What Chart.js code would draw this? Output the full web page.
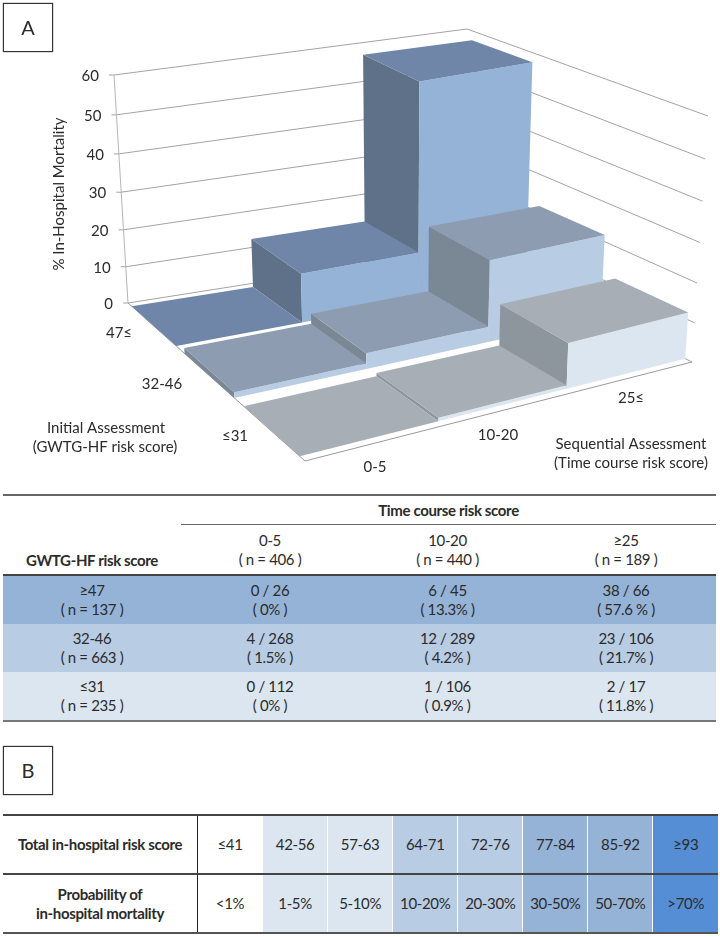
<!DOCTYPE html>
<html>
<head>
<meta charset="utf-8">
<title>In-hospital mortality</title>
<script src="https://cdn.jsdelivr.net/npm/chart.js@4/dist/chart.umd.min.js"></script>
<style>
	html, body { margin: 0; padding: 0; background: #fff; }
	body { position: relative; width: 720px; height: 937px; overflow: hidden; font-family: Lato, "Open Sans", sans-serif; color: #2b2b2b; }
	#scene { position: absolute; left: 0; top: 0; }
	.letter { position: absolute; width: 48px; height: 47px; border: 1px solid #333; box-shadow: 0 0 1px #333; font-size: 20px; line-height: 47px; text-align: center; }
	table { position: absolute; border-collapse: collapse; table-layout: fixed; font-size: 15px; letter-spacing: -0.35px; line-height: 19px; text-align: center; }
	td { padding: 0; }
	#tableA { left: 3px; top: 494px; width: 713px; border-top: 2px solid #666; border-bottom: 2px solid #777; }
	#tableA .head1 td { height: 28px; }
	#tableA .head1 td.span { border-bottom: 1px solid #666; font-weight: bold; }
	#tableA .head2 td { height: 49px; border-bottom: 2px solid #444; }
	#tableA .head2 td.first { font-weight: bold; vertical-align: bottom; padding-bottom: 4px; height: 45px; }
	#tableA .row td { height: 48px; }
	#tableB { left: 3px; top: 814px; width: 715px; border-top: 2px solid #444; border-bottom: 2px solid #555; }
	#tableB tr { height: 59px; }
	#tableB tr + tr td { border-top: 2px solid #444; }
	#tableB td { border-left: 1px solid #fff; }
	#tableB td.label { border-left: none; border-right: 1px solid #222; font-weight: bold; width: 194px; }
</style>
</head>
<body>
<canvas id="scene" width="720" height="480"></canvas>
<div class="letter" style="left:3px;top:3px">A</div>
<table id="tableA"></table>
<div class="letter" style="left:3px;top:746px">B</div>
<table id="tableB"></table>

<script>
// in-hospital mortality %, back row to front row, time course score 0-5, 10-20, >=25
var mortality_47 = [0, 13.3, 57.6];
var mortality_32 = [1.5, 4.2, 21.7];
var mortality_31 = [0, 0.9, 11.8];
var value_ticks = [0, 10, 20, 30, 40, 50, 60];
var row_labels = ["47≤", "32-46", "≤31"];
var col_labels = ["0-5", "10-20", "25≤"];

// table A
var table_cols = ["0-5", "10-20", "≥25"];
var table_col_n = ["( n = 406 )", "( n = 440 )", "( n = 189 )"];
var table_rows = ["≥47", "32-46", "≤31"];
var table_row_n = ["( n = 137 )", "( n = 663 )", "( n = 235 )"];
var counts_47 = ["0 / 26", "6 / 45", "38 / 66"];
var counts_32 = ["4 / 268", "12 / 289", "23 / 106"];
var counts_31 = ["0 / 112", "1 / 106", "2 / 17"];
var percent_47 = ["( 0% )", "( 13.3% )", "( 57.6 % )"];
var percent_32 = ["( 1.5% )", "( 4.2% )", "( 21.7% )"];
var percent_31 = ["( 0% )", "( 0.9% )", "( 11.8% )"];

// table B
var score_bands = ["≤41", "42-56", "57-63", "64-71", "72-76", "77-84", "85-92", "≥93"];
var probability_bands = ["<1%", "1-5%", "5-10%", "10-20%", "20-30%", "30-50%", "50-70%", ">70%"];

// ---- styles, kept away from the data ----
var row_colors = [
	{ top: "#6f86a8", left: "#5f7089", front: "#95b3d7", cell: "#95b3d7" },
	{ top: "#8d9cb0", left: "#7a8896", front: "#b8cce4", cell: "#b8cce4" },
	{ top: "#a7aeb6", left: "#8e969d", front: "#dce6f1", cell: "#dce6f1" }
];
var band_colors = ["#ffffff", "#dce6f1", "#dce6f1", "#b8cce4", "#b8cce4", "#95b3d7", "#95b3d7", "#558ed5"];

// the box of the 3D plot as it sits on the page: floor corners and the same corners at value 60
var box = {
	floor_left: [128, 303], floor_back: [464, 250], floor_front: [305, 461], floor_right: [692, 362],
	top_left: [114, 75], top_back: [467, 29], top_front: [300, 221], top_right: [708, 116]
};
var MAX_VALUE = 60;
var ROW_GAP = 0.025;

function mix(a, b, t) {
	return [a[0] + (b[0] - a[0]) * t, a[1] + (b[1] - a[1]) * t];
}
// foreshortening along one axis
function warp(t, k) {
	return t / (t + k * (1 - t));
}
// u: along time course axis 0-1, v: back to front 0-1
function project(u, v, value) {
	var fu = warp(u, 0.89), fv = warp(v, 1.19), fz = warp(value / MAX_VALUE, 1.058);
	var floor = mix(mix(box.floor_left, box.floor_front, fv), mix(box.floor_back, box.floor_right, fv), fu);
	var top = mix(mix(box.top_left, box.top_front, fv), mix(box.top_back, box.top_right, fv), fu);
	var p = mix(floor, top, fz);
	return { x: p[0], y: p[1] };
}

function face(points, color) {
	return { data: points, showLine: true, fill: "shape", backgroundColor: color, borderWidth: 0, pointRadius: 0 };
}
function stroke(points, color) {
	return { data: points, showLine: true, fill: false, borderColor: color, borderWidth: 1, pointRadius: 0 };
}

function make_datasets() {
	var sets = [];
	// walls and axis
	value_ticks.forEach(function (t) {
		var corner = project(0, 0, t);
		sets.push(stroke([{ x: corner.x - 5, y: corner.y }, corner, project(1, 0, t), project(1, 1, t)], "#a3a3a3"));
	});
	sets.push(stroke([project(0, 0, 0), project(0, 0, MAX_VALUE)], "#b5b5b5"));
	sets.push(stroke([project(0, 0, 0), project(0, 1, 0), project(1, 1, 0)], "#999999"));

	// bars, far ones first
	[mortality_47, mortality_32, mortality_31].forEach(function (values, r) {
		var v0 = r / 3 + ROW_GAP, v1 = (r + 1) / 3 - ROW_GAP;
		var c = row_colors[r];
		for (var i = values.length - 1; i >= 0; i--) {
			var u0 = i / 3, u1 = (i + 1) / 3, h = values[i];
			if (h > 0) {
				sets.push(face([project(u0, v0, 0), project(u0, v1, 0), project(u0, v1, h), project(u0, v0, h)], c.left));
				sets.push(face([project(u0, v1, 0), project(u1, v1, 0), project(u1, v1, h), project(u0, v1, h)], c.front));
			}
			sets.push(face([project(u0, v0, h), project(u1, v0, h), project(u1, v1, h), project(u0, v1, h)], c.top));
		}
	});
	// chart.js paints low order last
	sets.forEach(function (s, i) { s.order = sets.length - i; });
	return sets;
}

var label_spots = {
	rows: [[119, 333], [162, 384], [235, 436]],
	cols: [[375, 467], [498, 435], [631, 398]]
};

var text_plugin = {
	id: "scene_text",
	afterDraw: function (chart) {
		var ctx = chart.ctx;
		ctx.save();
		ctx.fillStyle = "#2b2b2b";
		ctx.font = "15px Lato";
		ctx.textBaseline = "middle";
		ctx.textAlign = "right";
		value_ticks.forEach(function (t) {
			var p = project(0, 0, t);
			ctx.fillText(String(t), p.x - 15, p.y + 1);
		});
		ctx.textAlign = "center";
		row_labels.forEach(function (l, i) { ctx.fillText(l, label_spots.rows[i][0], label_spots.rows[i][1]); });
		col_labels.forEach(function (l, i) { ctx.fillText(l, label_spots.cols[i][0], label_spots.cols[i][1]); });
		ctx.fillText("Initial Assessment", 106, 428);
		ctx.fillText("(GWTG-HF risk score)", 105, 447);
		ctx.fillText("Sequential Assessment", 631, 444);
		ctx.fillText("(Time course risk score)", 631, 463);
		ctx.translate(59, 194);
		ctx.rotate(-Math.PI / 2);
		ctx.fillText("% In-Hospital Mortality", 0, 0);
		ctx.restore();
	}
};

new Chart(document.getElementById("scene"), {
	type: "scatter",
	data: { datasets: make_datasets() },
	plugins: [text_plugin],
	options: {
		responsive: false,
		animation: false,
		layout: { padding: 0 },
		events: [],
		plugins: { legend: { display: false }, tooltip: { enabled: false } },
		scales: {
			x: { type: "linear", min: 0, max: 720, display: false },
			y: { type: "linear", min: 0, max: 480, reverse: true, display: false }
		}
	}
});

// ---- tables ----
function two_lines(a, b) {
	return a + "<br>" + b;
}
function make_table_a() {
	var html = "<colgroup><col style='width:178px'><col style='width:178px'><col style='width:177px'><col style='width:180px'></colgroup>";
	html += "<tr class='head1'><td></td><td class='span' colspan='3'>Time course risk score</td></tr>";
	html += "<tr class='head2'><td class='first'>GWTG-HF risk score</td>";
	table_cols.forEach(function (c, i) { html += "<td>" + two_lines(c, table_col_n[i]) + "</td>"; });
	html += "</tr>";
	var counts = [counts_47, counts_32, counts_31];
	var percents = [percent_47, percent_32, percent_31];
	table_rows.forEach(function (r, i) {
		html += "<tr class='row' style='background:" + row_colors[i].cell + "'><td>" + two_lines(r, table_row_n[i]) + "</td>";
		counts[i].forEach(function (c, j) { html += "<td>" + two_lines(c, percents[i][j]) + "</td>"; });
		html += "</tr>";
	});
	document.getElementById("tableA").innerHTML = html;
}
function make_table_b() {
	var html = "";
	[["Total in-hospital risk score", score_bands], ["Probability of<br>in-hospital mortality", probability_bands]].forEach(function (row) {
		html += "<tr><td class='label'>" + row[0] + "</td>";
		row[1].forEach(function (b, i) {
			html += "<td style='background:" + band_colors[i] + "'>" + b.replace("<", "&lt;").replace(">", "&gt;") + "</td>";
		});
		html += "</tr>";
	});
	document.getElementById("tableB").innerHTML = html;
}
make_table_a();
make_table_b();
</script>
</body>
</html>
